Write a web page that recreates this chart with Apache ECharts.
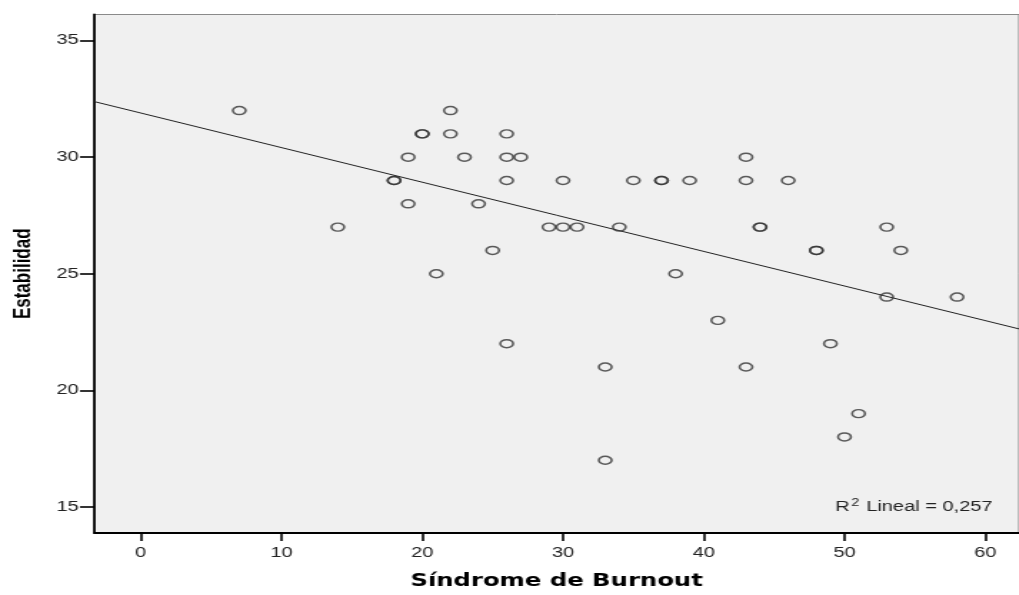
<!DOCTYPE html>
<html>
<head>
<meta charset="utf-8">
<script src="https://cdn.jsdelivr.net/npm/echarts@6/dist/echarts.min.js"></script>
<style>
html,body{margin:0;padding:0;background:#fff;overflow:hidden;width:1019px;height:595px}
#wrap{width:1019px;height:595px;overflow:hidden;position:relative}
#c{position:absolute;left:0;top:0;width:713px;height:595px;transform:scaleX(1.429);transform-origin:0 0}
</style>
</head>
<body>
<div id="wrap"><div id="c"></div></div>
<script>
// Síndrome de Burnout (x) vs Estabilidad (y)
const burnout = [7,14,18,18,19,19,20,20,21,22,22,23,24,25,26,26,26,26,27,29,30,30,31,33,33,34,35,37,37,38,39,41,43,43,43,44,44,46,48,48,49,50,51,53,53,54,58];
const estabilidad = [32,27,29,29,30,28,31,31,25,32,31,30,28,26,31,30,29,22,30,27,27,29,27,21,17,27,29,29,29,25,29,23,30,29,21,27,27,29,26,26,22,18,19,27,24,26,24];
const xTicks = [0,10,20,30,40,50,60];
const yTicks = [15,20,25,30,35];
const xRange = [-3.30, 62.39];
const yRange = [13.88, 36.12];
const r2Text = '0,257';

// least squares fit line from the data
const n = burnout.length;
let sx=0, sy=0, sxx=0, sxy=0;
for (let i=0;i<n;i++){ sx+=burnout[i]; sy+=estabilidad[i]; sxx+=burnout[i]*burnout[i]; sxy+=burnout[i]*estabilidad[i]; }
const slope = (n*sxy - sx*sy)/(n*sxx - sx*sx);
const intercept = (sy - slope*sx)/n;
const fitLine = xRange.map(x => [x, intercept + slope*x]);

const chart = echarts.init(document.getElementById('c'), null, {renderer:'canvas', width:713, height:595});
chart.setOption({
  animation:false,
  backgroundColor:'#ffffff',
  grid:{left:65.8, right:0, top:14.5, bottom:54, show:true, backgroundColor:'#F0F0F0', borderColor:'#8a8a8a', borderWidth:1},
  xAxis:{
    type:'value', min:xRange[0], max:xRange[1],
    name:'Síndrome de Burnout', nameLocation:'middle', nameGap:40,
    nameTextStyle:{fontFamily:'DejaVu Sans', fontWeight:'bold', fontSize:17, color:'#000'},
    axisLine:{show:true, onZero:false, lineStyle:{color:'#000', width:1.8}},
    axisTick:{show:true, length:8, customValues:xTicks, lineStyle:{color:'#000', width:1.6}},
    axisLabel:{customValues:xTicks, fontFamily:'Liberation Sans', fontSize:14, color:'#222', margin:13},
    splitLine:{show:false}
  },
  yAxis:{
    type:'value', min:yRange[0], max:yRange[1],
    name:'Estabilidad', nameLocation:'middle', nameGap:41, nameRotate:90,
    nameTextStyle:{fontFamily:'Liberation Sans', fontWeight:'bold', fontSize:17, color:'#000'},
    axisLine:{show:true, onZero:false, lineStyle:{color:'#000', width:1.8}},
    axisTick:{show:true, length:10, customValues:yTicks, lineStyle:{color:'#000', width:1.6}},
    axisLabel:{customValues:yTicks, fontFamily:'Liberation Sans', fontSize:14, color:'#222', margin:11},
    splitLine:{show:false}
  },
  series:[
    {
      type:'scatter',
      data: burnout.map((x,i)=>[x, estabilidad[i]]),
      symbol:'circle', symbolSize:[9,8],
      itemStyle:{color:'rgba(0,0,0,0)', borderColor:'#333', borderWidth:1.5},
      z:3
    },
    {
      type:'line', data:fitLine, symbol:'none', clip:true,
      lineStyle:{color:'#222', width:1},
      z:2
    }
  ],
  graphic:[{
    type:'text', left:584.6, top:498,
    style:{
      text:'{a|R}{s|2}{a| Lineal = '+r2Text+'}',
      rich:{
        a:{fontFamily:'Liberation Sans', fontSize:14, fill:'#222', verticalAlign:'bottom'},
        s:{fontFamily:'Liberation Sans', fontSize:10, fill:'#222', verticalAlign:'top', padding:[0,1,6,1]}
      }
    }
  }]
});
</script>
</body>
</html>
